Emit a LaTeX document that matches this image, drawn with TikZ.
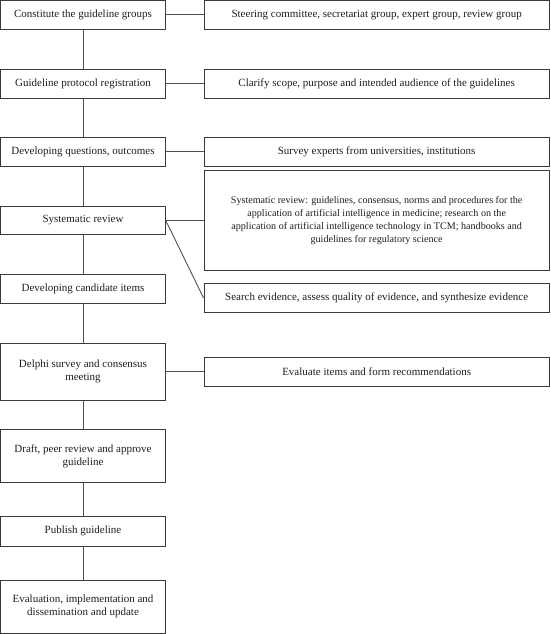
\documentclass[tikz,border=0pt]{standalone}
\usepackage{fontspec}
\setmainfont{Liberation Serif}
\definecolor{boxc}{HTML}{3A3A3A}
\definecolor{linec}{HTML}{505050}
\definecolor{txt}{HTML}{1E1E1E}
\begin{document}
\begin{tikzpicture}[x=1pt,y=-1pt,
  box/.style={draw=boxc, line width=0.9pt, inner sep=0pt, align=center, text=txt,
    font=\fontsize{11}{13}\selectfont},
  lbox/.style={box, minimum width=164.5pt},
  rbox/.style={box, minimum width=345.3pt},
  conn/.style={draw=linec, line width=0.9pt}]
\useasboundingbox (0,0) rectangle (551,634);
% left column
\node[lbox, minimum height=28.8pt] (l1) at (83,14.9) {Constitute the guideline groups};
\node[lbox, minimum height=29.7pt] (l2) at (83,83.85) {Guideline protocol registration};
\node[lbox, minimum height=28.7pt] (l3) at (83,151.65) {Developing questions, outcomes};
\node[lbox, minimum height=28.7pt] (l4) at (83,220.35) {Systematic review};
\node[lbox, minimum height=29pt] (l5) at (83,288.8) {Developing candidate items};
\node[lbox, minimum height=57.7pt] (l6) at (83,371.85) {Delphi survey and consensus\\meeting};
\node[lbox, minimum height=53.4pt] (l7) at (83,456) {Draft, peer review and approve\\guideline};
\node[lbox, minimum height=29.3pt] (l8) at (83,531.35) {Publish guideline};
\node[lbox, minimum height=53.3pt] (l9) at (83,606.65) {Evaluation, implementation and\\dissemination and update};
% right column
\node[rbox, minimum height=28.8pt] (r1) at (376.65,14.9) {Steering committee, secretariat group, expert group, review group};
\node[rbox, minimum height=29.7pt] (r2) at (376.65,83.85) {Clarify scope, purpose and intended audience of the guidelines};
\node[rbox, minimum height=28.7pt] (r3) at (376.65,151.65) {Survey experts from universities, institutions};
\node[rbox, minimum height=100pt, font=\fontsize{10.1}{13}\selectfont] (r4) at (376.65,220.5) {Systematic review: guidelines, consensus, norms and procedures for the\\application of artificial intelligence in medicine; research on the\\application of artificial intelligence technology in TCM; handbooks and\\guidelines for regulatory science};
\node[rbox, minimum height=29.4pt] (r5) at (376.65,298) {Search evidence, assess quality of evidence, and synthesize evidence};
\node[rbox, minimum height=29.4pt] (r6) at (376.65,372) {Evaluate items and form recommendations};
% vertical connectors
\foreach \a/\b in {l1/l2,l2/l3,l3/l4,l4/l5,l5/l6,l6/l7,l7/l8,l8/l9}
  \draw[conn] (\a.south) -- (\b.north);
% horizontal connectors
\foreach \a/\b in {l1/r1,l2/r2,l3/r3,l4/r4,l6/r6}
  \draw[conn] (\a.east) -- (\a.east -| \b.west);
% diagonal
\draw[conn] (l4.east) -- (r5.west);
\end{tikzpicture}
\end{document}
